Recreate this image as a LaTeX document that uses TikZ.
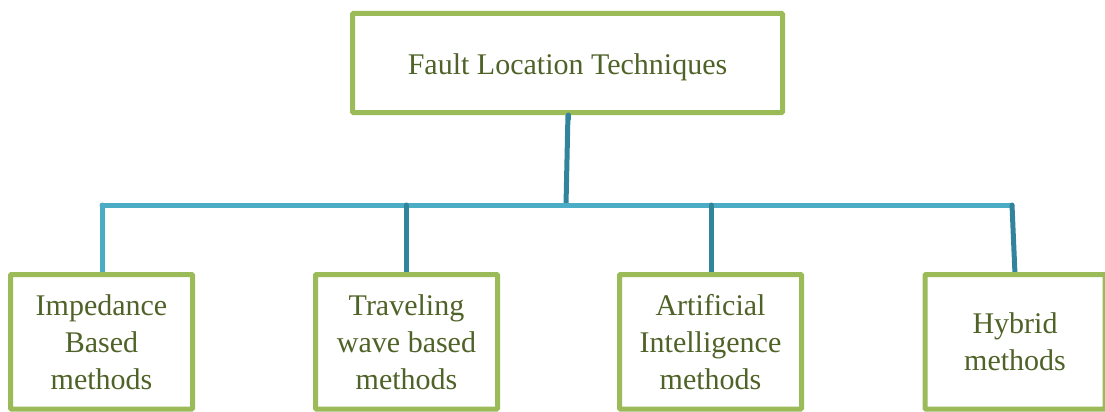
\documentclass[tikz,border=0pt]{standalone}
\usepackage{fontspec}
\setmainfont{Liberation Serif}
\definecolor{boxgreen}{HTML}{9BBB59}
\definecolor{textolive}{HTML}{4F6228}
\definecolor{barblue}{HTML}{4BACC6}
\definecolor{stemteal}{HTML}{31849B}
\newcommand{\lowered}[2]{\raisebox{-#1}[\height][\depth]{#2}}
\tikzset{
  catbox/.style={draw=boxgreen, line width=5pt, rounded corners=1pt, fill=white,
    text=textolive, align=center, inner sep=0pt,
    font=\fontsize{30pt}{37pt}\selectfont},
  topbox/.style={catbox, minimum width=430pt, minimum height=99pt},
  leafbox/.style={catbox, minimum width=182pt, minimum height=134.5pt},
  bar/.style={draw=barblue, line width=5pt, line cap=round, line join=round},
  stem/.style={draw=stemteal, line width=5pt, line cap=round},
}
\begin{document}
\begin{tikzpicture}[x=1pt, y=-1pt]
  \useasboundingbox (0,0) rectangle (1105,412);

  % hub coordinates on the horizontal bus
  \coordinate (hub) at (566,205);
  \coordinate (busL) at (102,205);
  \coordinate (busB) at (406,205);
  \coordinate (busC) at (711,205);
  \coordinate (busR) at (1012,205);

  % connectors
  \draw[stem] (568,113) coordinate (topfoot) -- (hub);
  \draw[bar] (busL) -- (busR);
  \draw[bar] (busL) -- (102,274.5) coordinate (footA);
  \draw[stem] (busB) -- (406,274.5) coordinate (footB);
  \draw[stem] (busC) -- (711,274.5) coordinate (footC);
  \draw[stem] (busR) -- (1015,274.5) coordinate (footD);

  % boxes
  \node[topbox] (top) at (567.5,63) {\lowered{4pt}{Fault Location Techniques}};
  \node[leafbox] (imp) at (101.5,341.75) {\lowered{3pt}{\begin{tabular}{@{}c@{}}Impedance\\Based\\methods\end{tabular}}};
  \node[leafbox] (trav) at (406.5,341.75) {\lowered{3pt}{\begin{tabular}{@{}c@{}}Traveling\\wave based\\methods\end{tabular}}};
  \node[leafbox] (ai) at (710.5,341.75) {\lowered{3pt}{\begin{tabular}{@{}c@{}}Artificial\\Intelligence\\methods\end{tabular}}};
  \node[leafbox, minimum width=180pt] (hyb) at (1015,341.75) {\lowered{3pt}{\begin{tabular}{@{}c@{}}Hybrid\\methods\end{tabular}}};

  % stem tip redrawn over the top box border
  \draw[stem] (top.south -| topfoot) -- ++(0,4);
\end{tikzpicture}
\end{document}
